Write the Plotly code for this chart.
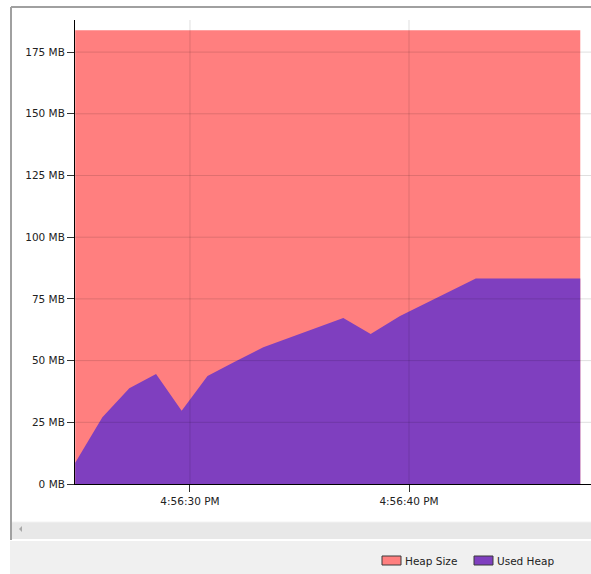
import plotly.graph_objects as go

# ---- data ----
used_times = ["2024-01-01 16:56:24.76", "2024-01-01 16:56:26.00", "2024-01-01 16:56:27.23",
              "2024-01-01 16:56:28.45", "2024-01-01 16:56:29.62", "2024-01-01 16:56:30.80",
              "2024-01-01 16:56:32.00", "2024-01-01 16:56:33.35", "2024-01-01 16:56:37.00",
              "2024-01-01 16:56:38.25", "2024-01-01 16:56:39.59", "2024-01-01 16:56:43.05",
              "2024-01-01 16:56:47.82"]
used_heap_mb = [8.6, 27.0, 38.8, 44.6, 29.7, 43.8, 49.3, 55.4, 67.3, 60.8, 68.1, 83.3, 83.3]

heap_times = ["2024-01-01 16:56:24.76", "2024-01-01 16:56:47.82"]
heap_size_mb = [183.8, 183.8]

y_tickvals = [0, 25, 50, 75, 100, 125, 150, 175]
y_ticktext = ["0 MB", "25 MB", "50 MB", "75 MB", "100 MB", "125 MB", "150 MB", "175 MB"]
x_tickvals = ["2024-01-01 16:56:30", "2024-01-01 16:56:40"]
x_ticktext = ["4:56:30 PM", "4:56:40 PM"]
x_range = ["2024-01-01 16:56:24.75", "2024-01-01 16:56:48.31"]
y_range = [0, 188]

series_names = ["Heap Size", "Used Heap"]
series_colors = ["#ff7f7f", "#7f3fbf"]

FONT = "DejaVu Sans"
W, H = 591, 574
L, T, B = 75, 20, 90
R = 0
PW = W - L - R
PH = H - T - B
GRID = "rgba(0,0,0,0.13)"


def px(x):
    return (x - L) / PW


def py(y):
    return (H - B - y) / PH


fig = go.Figure()
fig.add_trace(go.Scatter(x=heap_times, y=heap_size_mb, name=series_names[0], mode="none",
                         fill="tozeroy", fillcolor=series_colors[0], showlegend=False))
fig.add_trace(go.Scatter(x=used_times, y=used_heap_mb, name=series_names[1], mode="none",
                         fill="tozeroy", fillcolor=series_colors[1], showlegend=False))

shapes = []
# gridlines drawn above the filled areas
for xv in x_tickvals:
    shapes.append(dict(type="line", xref="x", yref="paper", x0=xv, x1=xv, y0=0, y1=1,
                       line=dict(color=GRID, width=1), layer="above"))
for yv in y_tickvals[1:]:
    shapes.append(dict(type="line", xref="paper", yref="y", x0=0, x1=1, y0=yv, y1=yv,
                       line=dict(color=GRID, width=1), layer="above"))
# outer panel frame
shapes.append(dict(type="line", xref="paper", yref="paper", x0=px(11), x1=px(592), y0=py(7), y1=py(7),
                   line=dict(color="#a0a0a0", width=2)))
shapes.append(dict(type="line", xref="paper", yref="paper", x0=px(11), x1=px(11), y0=py(7), y1=py(540),
                   line=dict(color="#a0a0a0", width=2)))
# scrollbar
shapes.append(dict(type="rect", xref="paper", yref="paper", x0=px(12), x1=px(592), y0=py(522), y1=py(539),
                   fillcolor="#e8e8e8", line=dict(width=0), layer="below"))
shapes.append(dict(type="line", xref="paper", yref="paper", x0=px(12), x1=px(592), y0=py(522), y1=py(522),
                   line=dict(color="#f2f2f2", width=1)))
shapes.append(dict(type="path", xref="paper", yref="paper",
                   path=f"M {px(19)} {py(529)} L {px(22)} {py(526)} L {px(22)} {py(532)} Z",
                   fillcolor="#a8a8a8", line=dict(width=0)))
# bottom legend panel
shapes.append(dict(type="rect", xref="paper", yref="paper", x0=px(10), x1=px(592), y0=py(541), y1=py(575),
                   fillcolor="#f0f0f0", line=dict(width=0), layer="below"))
# legend swatches
annotations = []
legend_x = [382, 474]
for name, color, lx in zip(series_names, series_colors, legend_x):
    shapes.append(dict(type="rect", xref="paper", yref="paper", x0=px(lx), x1=px(lx + 19),
                       y0=py(556), y1=py(565), fillcolor=color, line=dict(color="#3a3a3a", width=1)))
    annotations.append(dict(xref="paper", yref="paper", x=px(lx + 21), y=py(560.5), text=name,
                            showarrow=False, xanchor="left", yanchor="middle",
                            font=dict(family=FONT, size=10.5, color="#222222")))

fig.update_layout(
    width=W, height=H,
    margin=dict(l=L, r=R, t=T, b=B),
    paper_bgcolor="white", plot_bgcolor="rgba(0,0,0,0)",
    showlegend=False,
    shapes=shapes, annotations=annotations,
    font=dict(family=FONT, size=10, color="#222222"),
    xaxis=dict(type="date", range=x_range, tickvals=x_tickvals, ticktext=x_ticktext,
               showgrid=False,
               showline=True, linecolor="#000000", linewidth=1,
               ticks="outside", ticklen=7, tickcolor="#333333",
               zeroline=False, layer="above traces", fixedrange=True,
               tickfont=dict(family=FONT, size=10.5, color="#222222")),
    yaxis=dict(range=y_range, tickvals=y_tickvals, ticktext=y_ticktext,
               showgrid=False,
               showline=True, linecolor="#000000", linewidth=1,
               ticks="outside", ticklen=7, tickcolor="#333333",
               zeroline=False, layer="above traces", fixedrange=True,
               tickfont=dict(family=FONT, size=10.5, color="#222222")),
)

fig.write_html("out.html", config={"displayModeBar": False},
               post_script="document.body.style.margin='0px';document.body.style.overflow='hidden';")
